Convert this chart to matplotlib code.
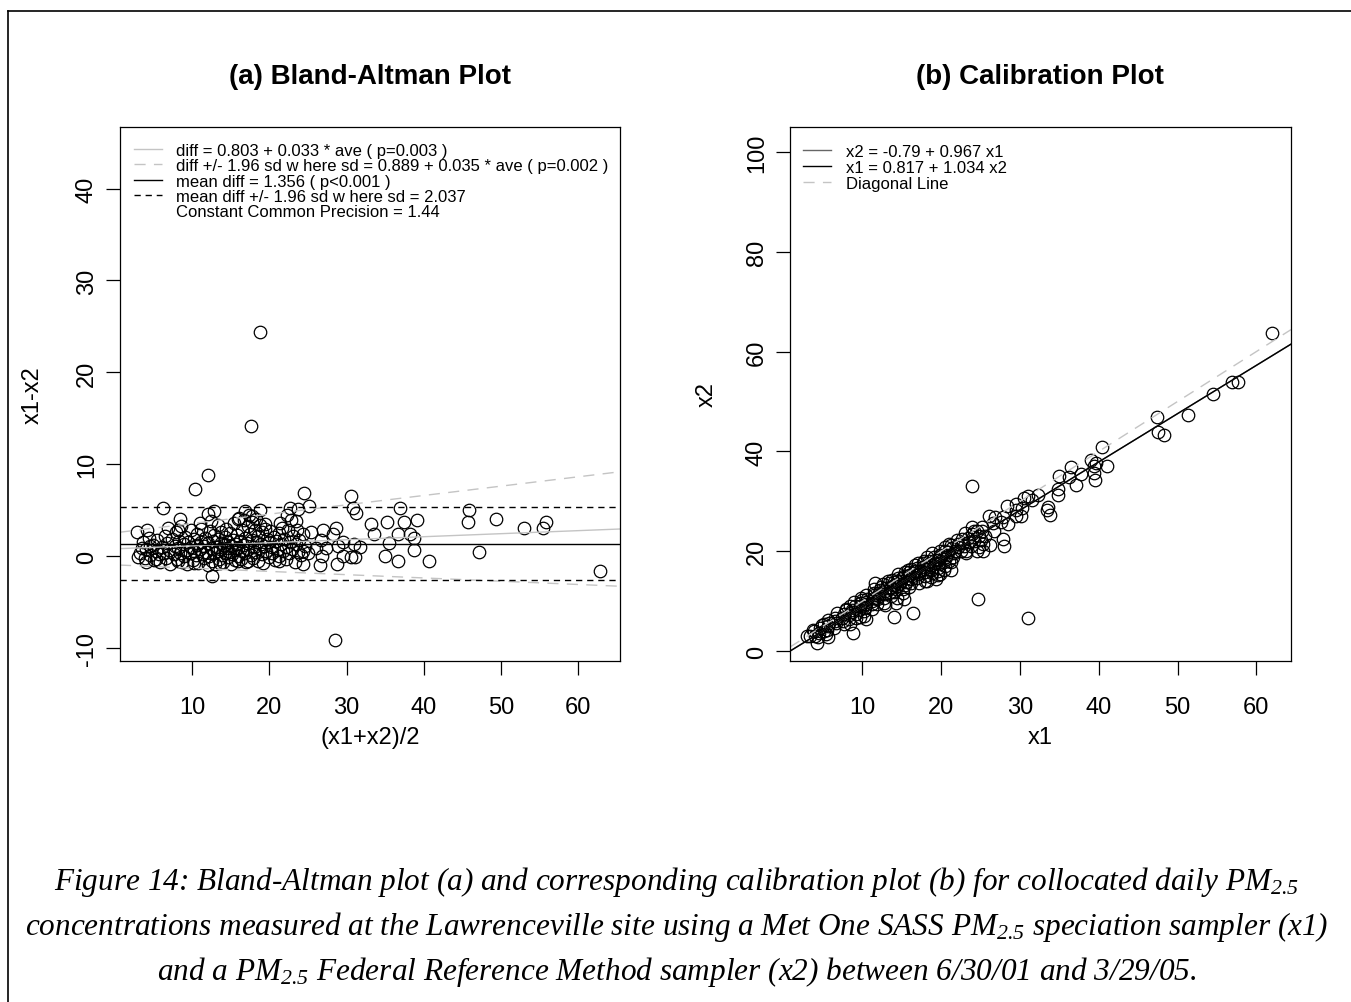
import numpy as np
import matplotlib
matplotlib.use('Agg')
import matplotlib.pyplot as plt

plt.rcParams['font.family'] = ['Liberation Sans', 'DejaVu Sans']
plt.rcParams['axes.unicode_minus'] = False
plt.rcParams['mathtext.fontset'] = 'custom'
plt.rcParams['mathtext.rm'] = 'Liberation Serif:italic'
plt.rcParams['mathtext.it'] = 'Liberation Serif:italic'

# (ave, diff) pairs; x1 and x2 follow from them
ave = [
    # scattered points
    18.8, 17.6, 12.0, 10.4, 6.2, 24.55, 25.1, 30.55, 30.8, 31.2, 36.9, 45.8, 45.7, 49.3,
    53.0, 55.4, 55.8, 62.85, 47.2, 40.7, 28.5, 12.6, 33.1, 35.2, 37.5, 39.1, 33.6, 36.6,
    38.2, 38.7, 35.5, 38.7, 35.0, 36.7, 31.8, 31.1, 30.6, 29.5, 28.7, 26.6, 24.4, 26.8,
    28.6, 27.0, 25.4, 24.3, 28.9, 29.5, 28.3, 26.7, 27.4, 26.1, 30.9, 8.4, 4.2, 2.9,
    3.0, 4.0, 5.3, 4.6, 3.5, 12.0, 12.8, 11.0, 16.9, 18.8, 16.0, 17.7, 21.4, 22.3,
    22.7, 23.7, 23.4, 19.5, 6.9, 8.2, 13.6, 16.0, 17.3, 21.2, 8.2, 10.2,
    # dense cluster, ave 3-7.5
    3.2, 3.6, 3.9, 4.1, 4.4, 4.6, 4.9, 5.1, 5.3, 5.5, 5.7, 5.9, 6.1, 6.3, 6.5, 6.6,
    6.8, 7.0, 7.2, 7.4,
    # ave 7.5-12.7
    7.6, 7.8, 7.9, 8.0, 8.2, 8.3, 8.5, 8.6, 8.7, 8.9, 9.0, 9.1, 9.3, 9.4, 9.5, 9.7,
    9.8, 9.9, 10.1, 10.2, 10.3, 10.5, 10.6, 10.7, 10.8, 11.0, 11.1, 11.2, 11.3, 11.5,
    11.6, 11.7, 11.8, 12.0, 12.1, 12.2, 12.3, 12.4, 12.5, 12.6,
    # ave 12.7-17
    12.7, 12.8, 12.9, 13.0, 13.1, 13.2, 13.3, 13.4, 13.5, 13.6, 13.7, 13.8, 13.9, 14.0,
    14.1, 14.2, 14.3, 14.4, 14.5, 14.6, 14.7, 14.8, 14.9, 15.0, 15.1, 15.2, 15.3, 15.4,
    15.5, 15.6, 15.7, 15.8, 15.9, 16.0, 16.1, 16.2, 16.3, 16.4, 16.5, 16.6, 16.7, 16.8,
    16.9, 17.0,
    # ave 17-21
    17.1, 17.2, 17.3, 17.4, 17.5, 17.6, 17.7, 17.8, 17.9, 18.0, 18.1, 18.2, 18.3, 18.4,
    18.5, 18.6, 18.7, 18.8, 18.9, 19.0, 19.1, 19.2, 19.3, 19.5, 19.6, 19.7, 19.9, 20.0,
    20.1, 20.3, 20.4, 20.6, 20.7, 20.9, 21.0,
    # ave 21-25
    21.2, 21.3, 21.5, 21.6, 21.8, 21.9, 22.1, 22.2, 22.4, 22.5, 22.7, 22.8, 23.0, 23.1,
    23.3, 23.4, 23.6, 23.7, 23.9, 24.1, 24.3, 24.6, 25.0,
]
diff = [
    24.4, 14.2, 8.8, 7.3, 5.2, 6.9, 5.5, 6.5, 5.2, 4.7, 5.2, 5.0, 3.7, 4.1,
    3.1, 3.1, 3.7, -1.6, 0.5, -0.5, -9.1, -2.1, 3.5, 3.7, 3.7, 3.9, 2.4, 2.4,
    2.4, 2.0, 1.4, 0.7, 0.0, -0.5, 1.0, -0.1, -0.1, 0.0, -0.8, -1.0, -0.9, 0.0,
    3.1, 2.9, 2.6, 0.6, 1.1, 1.5, 2.4, 1.8, 0.9, 0.9, 1.3, 4.1, 2.9, 2.6,
    -0.1, -0.6, -0.3, 1.1, 0.9, 4.6, 4.9, 3.6, 4.9, 5.0, 4.0, 4.4, 3.6, 4.5,
    5.3, 5.1, 3.8, 3.5, 3.1, 2.9, -0.7, -0.5, -0.5, -0.5, -0.5, -0.7,
    0.3, 1.5, -0.2, 0.8, 2.0, 0.1, 1.2, -0.4, 0.6, 1.8, 0.2, -0.6, 1.0, 0.4, 2.2, -0.2,
    1.4, 0.7, -0.8, 1.9,
    0.2, 1.1, 2.6, -0.3, 0.9, 1.7, 0.4, 3.3, -0.6, 1.3, 0.0, 2.1, 0.7, -0.9, 1.6, 0.3,
    2.8, 1.0, -0.4, 0.6, 1.9, 0.1, 1.2, 2.4, -0.7, 0.8, 1.5, 3.0, 0.2, -0.2,
    1.1, 2.0, 0.5, -1.0, 1.4, 0.0, 2.7, 0.9, 3.8, -0.5,
    1.7, 0.3, 2.3, -0.8, 1.0, 0.6, 1.9, 3.4, -0.3, 0.8, 1.4, 2.6, 0.1, -0.6,
    1.2, 0.4, 2.1, 3.0, 0.9, -0.1, 1.6, 0.5, 2.5, -0.9, 1.1, 0.2, 1.8, 3.6,
    0.7, -0.4, 1.3, 2.3, 0.0, 0.9, 4.2, 1.7, -0.3, 0.6, 2.9, 1.2, 3.9, 0.3,
    2.0, -0.6,
    1.4, 3.3, 0.8, 4.5, 2.4, 0.1, 1.8, 3.7, -0.2, 1.0, 2.9, 0.5, 4.1, 1.6,
    -0.5, 2.2, 0.9, 3.4, 1.3, 0.2, 2.6, -0.7, 1.1, 3.0, 0.6, 1.9, -0.1, 1.5,
    2.7, 0.4, 1.0, 2.1, -0.4, 1.7, 0.7,
    2.5, 0.0, 1.3, 3.1, 0.6, 1.9, -0.3, 1.0, 2.8, 0.3, 1.6, 3.9, 0.8, 2.2,
    -0.6, 1.3, 2.9, 0.5, 1.8, 0.1, 2.4, 1.1, 0.3,
]

ave = np.array(ave)
diff = np.array(diff)
x1 = ave + diff / 2
x2 = ave - diff / 2

# fitted values printed in the legends
reg_a, reg_b = 0.803, 0.033
sd_a, sd_b = 0.889, 0.035
mean_diff, sd_const = 1.356, 2.037
cal_a, cal_b = -0.79, 0.967
inv_a, inv_b = 0.817, 1.034

W, H = 1351, 1003
fig = plt.figure(figsize=(W / 100, H / 100), dpi=100)

# page frame
fig.add_artist(plt.Line2D([8 / W, 1], [1 - 12 / H, 1 - 12 / H], color='black', lw=1.2))
fig.add_artist(plt.Line2D([8 / W, 8 / W], [0, 1 - 12 / H], color='black', lw=1.2))

ax1 = fig.add_axes([120 / W, 1 - 662 / H, 500 / W, 534 / H])
ax2 = fig.add_axes([790 / W, 1 - 662 / H, 501 / W, 534 / H])

light = '#c4c4c4'
gdash = (8, 6)
kdash = (4.5, 3.5)

# (a) Bland-Altman
ax1.set_xlim(0.67, 65.4)
ax1.set_ylim(-11.4, 46.7)
ax1.plot(ave, diff, 'o', ms=9, mfc='none', mec='black', mew=0.9)
xs = np.array(ax1.get_xlim())
ax1.plot(xs, reg_a + reg_b * xs, color=light, lw=1)
ax1.plot(xs, reg_a + reg_b * xs + 1.96 * (sd_a + sd_b * xs), color=light, lw=1, dashes=gdash)
ax1.plot(xs, reg_a + reg_b * xs - 1.96 * (sd_a + sd_b * xs), color=light, lw=1, dashes=gdash)
ax1.axhline(mean_diff, color='black', lw=1)
ax1.axhline(mean_diff + 1.96 * sd_const, color='black', lw=1, dashes=kdash)
ax1.axhline(mean_diff - 1.96 * sd_const, color='black', lw=1, dashes=kdash)
ax1.set_xticks([10, 20, 30, 40, 50, 60])
ax1.set_yticks([-10, 0, 10, 20, 30, 40])

leg1 = [
    ('diff = 0.803 + 0.033 * ave ( p=0.003 )', light, None),
    ('diff +/- 1.96 sd w here sd = 0.889 + 0.035 * ave ( p=0.002 )', light, gdash),
    ('mean diff = 1.356 ( p<0.001 )', 'black', None),
    ('mean diff +/- 1.96 sd w here sd = 2.037', 'black', kdash),
    ('Constant Common Precision = 1.44', None, None),
]
for i, (lab, col, dsh) in enumerate(leg1):
    fy = (662 - (150 + i * 15.3)) / 534
    if col is not None:
        kw = {'dashes': dsh} if dsh else {}
        ax1.plot([(134 - 120) / 500, (162 - 120) / 500], [fy, fy], color=col, lw=1,
                 transform=ax1.transAxes, clip_on=False, **kw)
    ax1.text((176 - 120) / 500, fy, lab, transform=ax1.transAxes, fontsize=12,
             va='center_baseline', ha='left')

# (b) Calibration
ax2.set_xlim(0.8, 64.4)
ax2.set_ylim(-2.0, 105.0)
ax2.plot(x1, x2, 'o', ms=9, mfc='none', mec='black', mew=0.9)
xs = np.array(ax2.get_xlim())
ax2.plot(xs, cal_a + cal_b * xs, color='#666666', lw=1)
ax2.plot(xs, (xs - inv_a) / inv_b, color='black', lw=1)
ax2.plot(xs, xs, color=light, lw=1, dashes=gdash)
ax2.set_xticks([10, 20, 30, 40, 50, 60])
ax2.set_yticks([0, 20, 40, 60, 80, 100])

leg2 = [
    ('x2 = -0.79 + 0.967 x1', '#666666', None),
    ('x1 = 0.817 + 1.034 x2', 'black', None),
    ('Diagonal Line', light, gdash),
]
for i, (lab, col, dsh) in enumerate(leg2):
    fy = (662 - (151 + i * 15.8)) / 534
    kw = {'dashes': dsh} if dsh else {}
    ax2.plot([(803 - 790) / 501, (831 - 790) / 501], [fy, fy], color=col, lw=1,
             transform=ax2.transAxes, clip_on=False, **kw)
    ax2.text((846 - 790) / 501, fy, lab, transform=ax2.transAxes, fontsize=12,
             va='center_baseline', ha='left')

for ax in (ax1, ax2):
    for s in ax.spines.values():
        s.set_linewidth(0.9)
    ax.tick_params(axis='both', length=10, width=0.9, labelsize=17, color='black')
    ax.tick_params(axis='x', pad=15)
    ax.tick_params(axis='y', pad=6)
    for t in ax.get_yticklabels():
        t.set_rotation(90)
        t.set_va('center')

ax1.set_xlabel('(x1+x2)/2', fontsize=17, va='center')
ax1.xaxis.set_label_coords(0.5, (662 - 738) / 534)
ax1.set_ylabel('x1-x2', fontsize=17, va='center')
ax1.yaxis.set_label_coords((33 - 120) / 500, 0.5)
ax2.set_xlabel('x1', fontsize=17, va='center')
ax2.xaxis.set_label_coords(0.5, (662 - 738) / 534)
ax2.set_ylabel('x2', fontsize=17, va='center')
ax2.yaxis.set_label_coords((707 - 790) / 501, 0.5)

fig.text(370 / W, 1 - 77 / H, '(a) Bland-Altman Plot', fontsize=20, fontweight='bold',
         ha='center', va='center')
fig.text(1040 / W, 1 - 77 / H, '(b) Calibration Plot', fontsize=20, fontweight='bold',
         ha='center', va='center')

caption = [
    'Figure 14: Bland-Altman plot (a) and corresponding calibration plot (b) for collocated daily PM$_{2.5}$',
    'concentrations measured at the Lawrenceville site using a Met One SASS PM$_{2.5}$ speciation sampler (x1)',
    'and a PM$_{2.5}$ Federal Reference Method sampler (x2) between 6/30/01 and 3/29/05.',
]
for i, line in enumerate(caption):
    fig.text(677 / W, 1 - (882 + i * 45) / H, line, fontsize=22.5, family='Liberation Serif',
             style='italic', ha='center', va='center')

fig.savefig('out.png', dpi=100)
